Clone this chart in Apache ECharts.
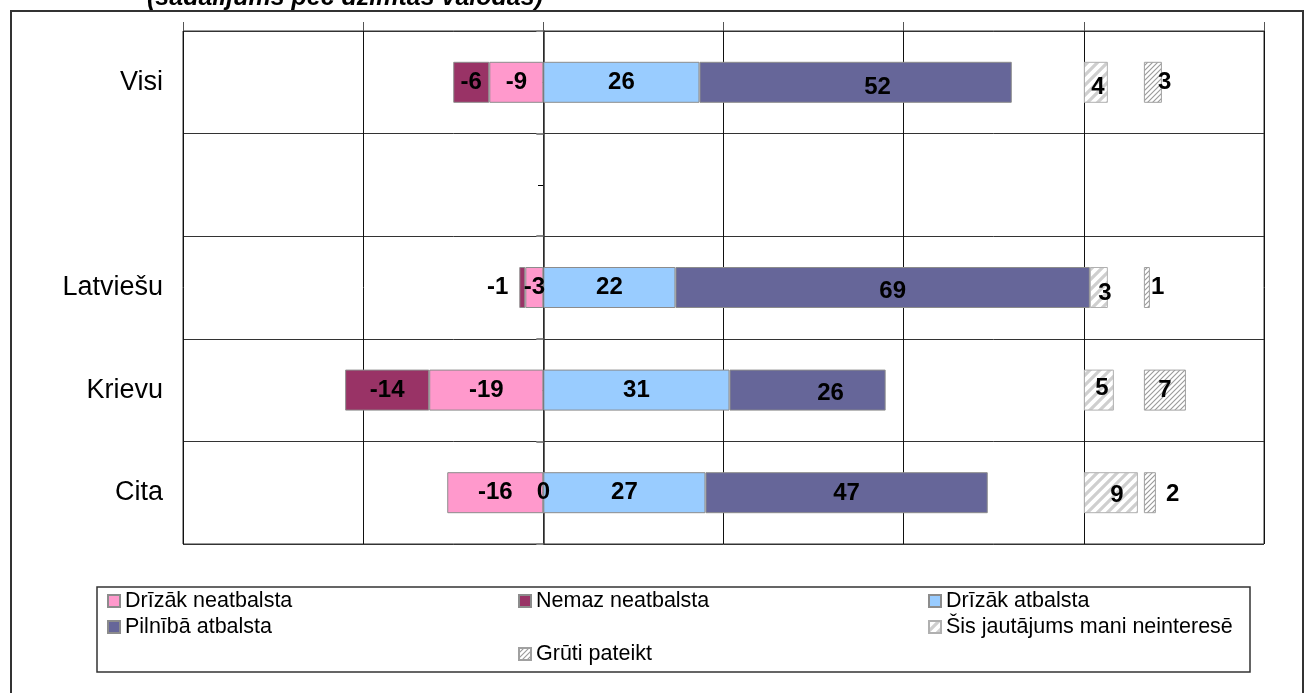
<!DOCTYPE html>
<html>
<head>
<meta charset="utf-8">
<script src="https://cdn.jsdelivr.net/npm/echarts@6/dist/echarts.min.js"></script>
<style>
  html, body { margin: 0; padding: 0; background: #fff; }
  #chart { width: 1314px; height: 693px; }
</style>
</head>
<body>
<div id="chart"></div>
<script>
// Survey answers by native language (percent); negative = not supporting
const categories = ['Visi', '', 'Latviešu', 'Krievu', 'Cita'];
const ratherNot = [-9, '-', -3, -19, -16];      // Drīzāk neatbalsta
const notAtAll = [-6, '-', -1, -14, 0];         // Nemaz neatbalsta
const ratherYes = [26, '-', 22, 31, 27];        // Drīzāk atbalsta
const fully = [52, '-', 69, 26, 47];            // Pilnībā atbalsta
const notInterested = [4, '-', 3, 5, 9];        // Šis jautājums mani neinteresē
const hardToSay = [3, '-', 1, 7, 2];            // Grūti pateikt
const seriesNames = ['Drīzāk neatbalsta', 'Nemaz neatbalsta', 'Drīzāk atbalsta',
  'Pilnībā atbalsta', 'Šis jautājums mani neinteresē', 'Grūti pateikt'];
const axisTicks = { min: -60, max: 120, interval: 30 };

// columns where the side answers start on the value axis
const sideStart1 = 90, sideStart2 = 100;

const FONT = "'Liberation Sans', Arial, Helvetica, sans-serif";
const isNum = v => typeof v === 'number';

// invisible offsets that push the side answers to their own columns
const posTotal = ratherYes.map((v, i) => isNum(v) ? v + fully[i] : '-');
const gap1 = posTotal.map(t => isNum(t) ? Math.max(0, sideStart1 - t) : '-');
const gap2 = posTotal.map((t, i) => isNum(t) ? Math.max(0, sideStart2 - (t + gap1[i] + notInterested[i])) : '-');
// base under "Nemaz" so a zero answer stays on the zero line
const negBase = notAtAll.map((v, i) => isNum(v) ? (v < 0 ? ratherNot[i] : 0) : '-');

function hatch(size, lineW, color) {
  const c = document.createElement('canvas');
  c.width = c.height = size;
  const g = c.getContext('2d');
  g.fillStyle = '#fff';
  g.fillRect(0, 0, size, size);
  g.strokeStyle = color;
  g.lineWidth = lineW;
  g.beginPath();
  g.moveTo(0, size); g.lineTo(size, 0);
  g.moveTo(-size / 2, size / 2); g.lineTo(size / 2, -size / 2);
  g.moveTo(size / 2, size * 1.5); g.lineTo(size * 1.5, size / 2);
  g.stroke();
  return c;
}

const labelBase = {
  show: true, position: 'inside', color: '#000', fontFamily: FONT,
  fontSize: 24, fontWeight: 'bold',
  formatter: p => (isNum(p.value) ? String(p.value) : '')
};
const border = { borderColor: '#8c8c8c', borderWidth: 1 };
const BAR_W = 41;

function bar(name, data, stack, color, extra) {
  return Object.assign({
    name, type: 'bar', stack, data, barWidth: BAR_W, barGap: '-100%',
    itemStyle: Object.assign({ color }, border),
    label: Object.assign({}, labelBase),
    emphasis: { disabled: true }
  }, extra || {});
}
function spacer(name, data, stack) {
  return {
    name, type: 'bar', stack, data, barWidth: BAR_W, barGap: '-100%', silent: true,
    itemStyle: { color: 'rgba(0,0,0,0)', borderWidth: 0 },
    label: { show: false }, emphasis: { disabled: true }
  };
}

// per-item label placement tweaks
function withLabels(values, tweaks) {
  return values.map((v, i) => tweaks[i] ? { value: v, label: tweaks[i] } : v);
}

const series = [
  bar(seriesNames[0], ratherNot, 'main', '#ff99cc'),
  spacer('negBase', negBase, 'neg'),
  bar(seriesNames[1], withLabels(notAtAll, { 2: { position: 'left', distance: 11 } }), 'neg', '#993366'),
  bar(seriesNames[2], ratherYes, 'main', '#99ccff'),
  bar(seriesNames[3], withLabels(fully, {
    0: { offset: [22, 5] }, 2: { offset: [10, 4] }, 3: { offset: [23, 3] }, 4: { offset: [0, 1] }
  }), 'main', '#666699'),
  spacer('gap1', gap1, 'main'),
  bar(seriesNames[4], withLabels(notInterested, {
    0: { offset: [2, 5] }, 2: { offset: [6, 6] }, 3: { offset: [3, -2] }, 4: { offset: [6, 3] }
  }), 'main', null,
    { itemStyle: { color: { image: hatch(10, 3.2, '#cfcfcf'), repeat: 'repeat' }, borderColor: '#b0b0b0', borderWidth: 1 } }),
  spacer('gap2', gap2, 'main'),
  bar(seriesNames[5], withLabels(hardToSay, {
    0: { position: 'right', distance: -4 }, 2: { position: 'right', distance: 1 },
    4: { position: 'right', distance: 10, offset: [0, 2] }
  }), 'main', null,
    { itemStyle: { color: { image: hatch(5, 1.1, '#9a9a9a'), repeat: 'repeat' }, borderColor: '#a0a0a0', borderWidth: 1 } })
];

const legendText = { fontFamily: FONT, fontSize: 21.5, color: '#000', lineHeight: 22 };
function legendAt(name, left, rowCenter) {
  return {
    data: [name], left, top: rowCenter - 11, padding: 0,
    icon: 'rect', itemWidth: 12, itemHeight: 12, selectedMode: false,
    textStyle: legendText
  };
}
const rows = [601, 627, 654];
const cols = [107, 518, 928];

// the value-axis zero sits 360px right of the plot's left edge
const zeroOffset = -360;

const chart = echarts.init(document.getElementById('chart'), null, { renderer: 'canvas' });
chart.setOption({
  animation: false,
  backgroundColor: '#fff',
  grid: { left: 183, right: 50, top: 31, bottom: 149, show: true, borderColor: '#333', borderWidth: 1 },
  xAxis: {
    type: 'value', position: 'top',
    min: axisTicks.min, max: axisTicks.max, interval: axisTicks.interval,
    axisLine: { show: false },
    axisTick: { show: true, length: 9, lineStyle: { color: '#555' } },
    axisLabel: { show: false },
    splitLine: { show: true, lineStyle: { color: '#111', width: 1 } }
  },
  yAxis: [
    {
      type: 'category', data: categories, inverse: true, position: 'left',
      axisLine: { show: false, onZero: false },
      axisTick: { show: false },
      axisLabel: { margin: 20, color: '#000', fontFamily: FONT, fontSize: 27 },
      splitLine: { show: true, lineStyle: { color: '#333', width: 1 } }
    },
    {
      type: 'category', data: categories, inverse: true, position: 'left',
      axisLine: { show: true, onZero: true, lineStyle: { color: '#333', width: 1.5 } },
      axisTick: { show: true, length: 7, lineStyle: { color: '#888', width: 2 } },
      axisLabel: { show: false }, splitLine: { show: false }
    },
    {
      type: 'category', data: categories, inverse: true, position: 'left', offset: zeroOffset,
      axisLine: { show: false, onZero: false },
      axisTick: { show: true, alignWithLabel: true, length: 5, lineStyle: { color: '#000' } },
      axisLabel: { show: false }, splitLine: { show: false }
    }
  ],
  legend: [
    legendAt(seriesNames[0], cols[0], rows[0]),
    legendAt(seriesNames[1], cols[1], rows[0]),
    legendAt(seriesNames[2], cols[2], rows[0]),
    legendAt(seriesNames[3], cols[0], rows[1]),
    legendAt(seriesNames[4], cols[2], rows[1]),
    legendAt(seriesNames[5], cols[1], rows[2])
  ],
  graphic: [
    { type: 'rect', silent: true, z: -1,
      shape: { x: 11, y: 11, width: 1292, height: 720 },
      style: { fill: 'none', stroke: '#333', lineWidth: 2 } },
    { type: 'rect', silent: true, z: -1,
      shape: { x: 97, y: 587, width: 1153, height: 85 },
      style: { fill: 'none', stroke: '#333', lineWidth: 1.5 } },
    { type: 'text', silent: true,
      style: { x: 147, y: -2, text: '(sadalījums pēc dzimtās valodas)',
        font: "italic bold 25px 'Liberation Sans', Arial, sans-serif",
        fill: '#000', verticalAlign: 'middle' } }
  ],
  series
});
</script>
</body>
</html>
